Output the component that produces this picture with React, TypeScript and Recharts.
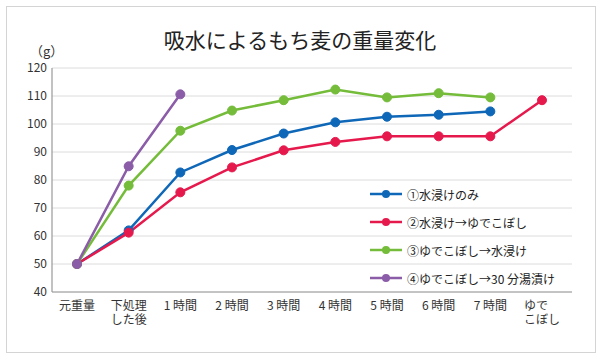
import React from 'react';
import { LineChart, Line, XAxis, YAxis, CartesianGrid } from 'recharts';

const categories = ['元重量', '下処理\nした後', '1 時間', '2 時間', '3 時間', '4 時間', '5 時間', '6 時間', '7 時間', 'ゆで\nこぼし'];
const soakOnly = [50, 62, 82.7, 90.7, 96.6, 100.6, 102.6, 103.3, 104.5, null];
const soakThenBoil = [50, 61.2, 75.6, 84.5, 90.6, 93.6, 95.6, 95.6, 95.6, 108.5];
const boilThenSoak = [50, 78, 97.6, 104.8, 108.5, 112.3, 109.5, 111, 109.5, null];
const boilThenHot = [50, 84.9, 110.6, null, null, null, null, null, null, null];
const yTicks = [40, 50, 60, 70, 80, 90, 100, 110, 120];

const series = [
  { key: 's1', name: '①水浸けのみ', color: '#0f67b8', values: soakOnly },
  { key: 's2', name: '②水浸け→ゆでこぼし', color: '#e6194d', values: soakThenBoil },
  { key: 's3', name: '③ゆでこぼし→水浸け', color: '#74bc3a', values: boilThenSoak },
  { key: 's4', name: '④ゆでこぼし→30 分湯漬け', color: '#8b5ca7', values: boilThenHot },
];

const data = categories.map((c, i) => {
  const row: any = { name: c };
  series.forEach((s) => {
    row[s.key] = s.values[i];
  });
  return row;
});

const FONT = '"Noto Sans CJK JP", "Noto Sans", sans-serif';

// 2行ラベルは左揃え、1行ラベルは中央揃え
function XTick(props: any) {
  const { x, y, payload } = props;
  const lines = String(payload.value).split('\n');
  const multi = lines.length > 1;
  const maxLen = Math.max(...lines.map((l) => l.length));
  const tx = multi ? x - maxLen * 6 : x;
  return (
    <text x={tx} y={y} textAnchor={multi ? 'start' : 'middle'} fontSize={12} fill="#333" fontFamily={FONT}>
      {lines.map((l, i) => (
        <tspan key={i} x={tx} dy={i === 0 ? 12 : 14}>
          {l}
        </tspan>
      ))}
    </text>
  );
}

function LegendBox() {
  return (
    <div style={{ position: 'absolute', left: 370, top: 180, fontFamily: FONT, fontSize: 12, color: '#222' }}>
      {series.map((s) => (
        <div key={s.key} style={{ height: 28, display: 'flex', alignItems: 'center', whiteSpace: 'nowrap' }}>
          <svg width={32} height={10} style={{ marginRight: 5 }}>
            <line x1={0} y1={5} x2={32} y2={5} stroke={s.color} strokeWidth={2.5} />
            <circle cx={16} cy={5} r={4} fill={s.color} />
          </svg>
          <span>{s.name}</span>
        </div>
      ))}
    </div>
  );
}

export default function App() {
  return (
    <div style={{ position: 'fixed', left: 0, top: 0, width: 600, height: 358, background: '#fff', fontFamily: FONT }}>
      <div
        style={{
          position: 'absolute',
          left: 6,
          top: 6,
          width: 588,
          height: 345,
          border: '1px solid #d4d4d4',
        }}
      />
      <div
        style={{
          position: 'absolute',
          left: 0,
          width: 600,
          top: 26,
          textAlign: 'center',
          fontSize: 21,
          color: '#222',
          lineHeight: '26px',
        }}
      >
        吸水によるもち麦の重量変化
      </div>
      <div style={{ position: 'absolute', left: 30, top: 43, fontSize: 13, color: '#333', lineHeight: '15px' }}>（g）</div>
      <div style={{ position: 'absolute', left: 0, top: 0 }}>
        <LineChart width={600} height={358} data={data} margin={{ top: 68, right: 28, bottom: 36, left: 12 }}>
          <CartesianGrid vertical={false} stroke="#dcdcdc" strokeWidth={1} />
          <XAxis
            dataKey="name"
            interval={0}
            height={30}
            tickLine={false}
            tickSize={0}
            tickMargin={6}
            axisLine={{ stroke: '#999', strokeWidth: 1.2 }}
            padding={{ left: 25, right: 30 }}
            tick={<XTick />}
          />
          <YAxis
            width={40}
            domain={[40, 120]}
            ticks={yTicks}
            interval={0}
            tickLine={false}
            tickSize={0}
            tickMargin={5}
            axisLine={{ stroke: '#999', strokeWidth: 1.2 }}
            tick={{ fontSize: 12, fill: '#333', fontFamily: FONT }}
          />
          {series.map((s) => (
            <Line
              key={s.key}
              dataKey={s.key}
              name={s.name}
              type="linear"
              stroke={s.color}
              strokeWidth={2.5}
              dot={{ r: 4.5, fill: s.color, stroke: s.color, strokeWidth: 1 }}
              activeDot={false}
              connectNulls={false}
              isAnimationActive={false}
            />
          ))}
        </LineChart>
      </div>
      <LegendBox />
    </div>
  );
}
